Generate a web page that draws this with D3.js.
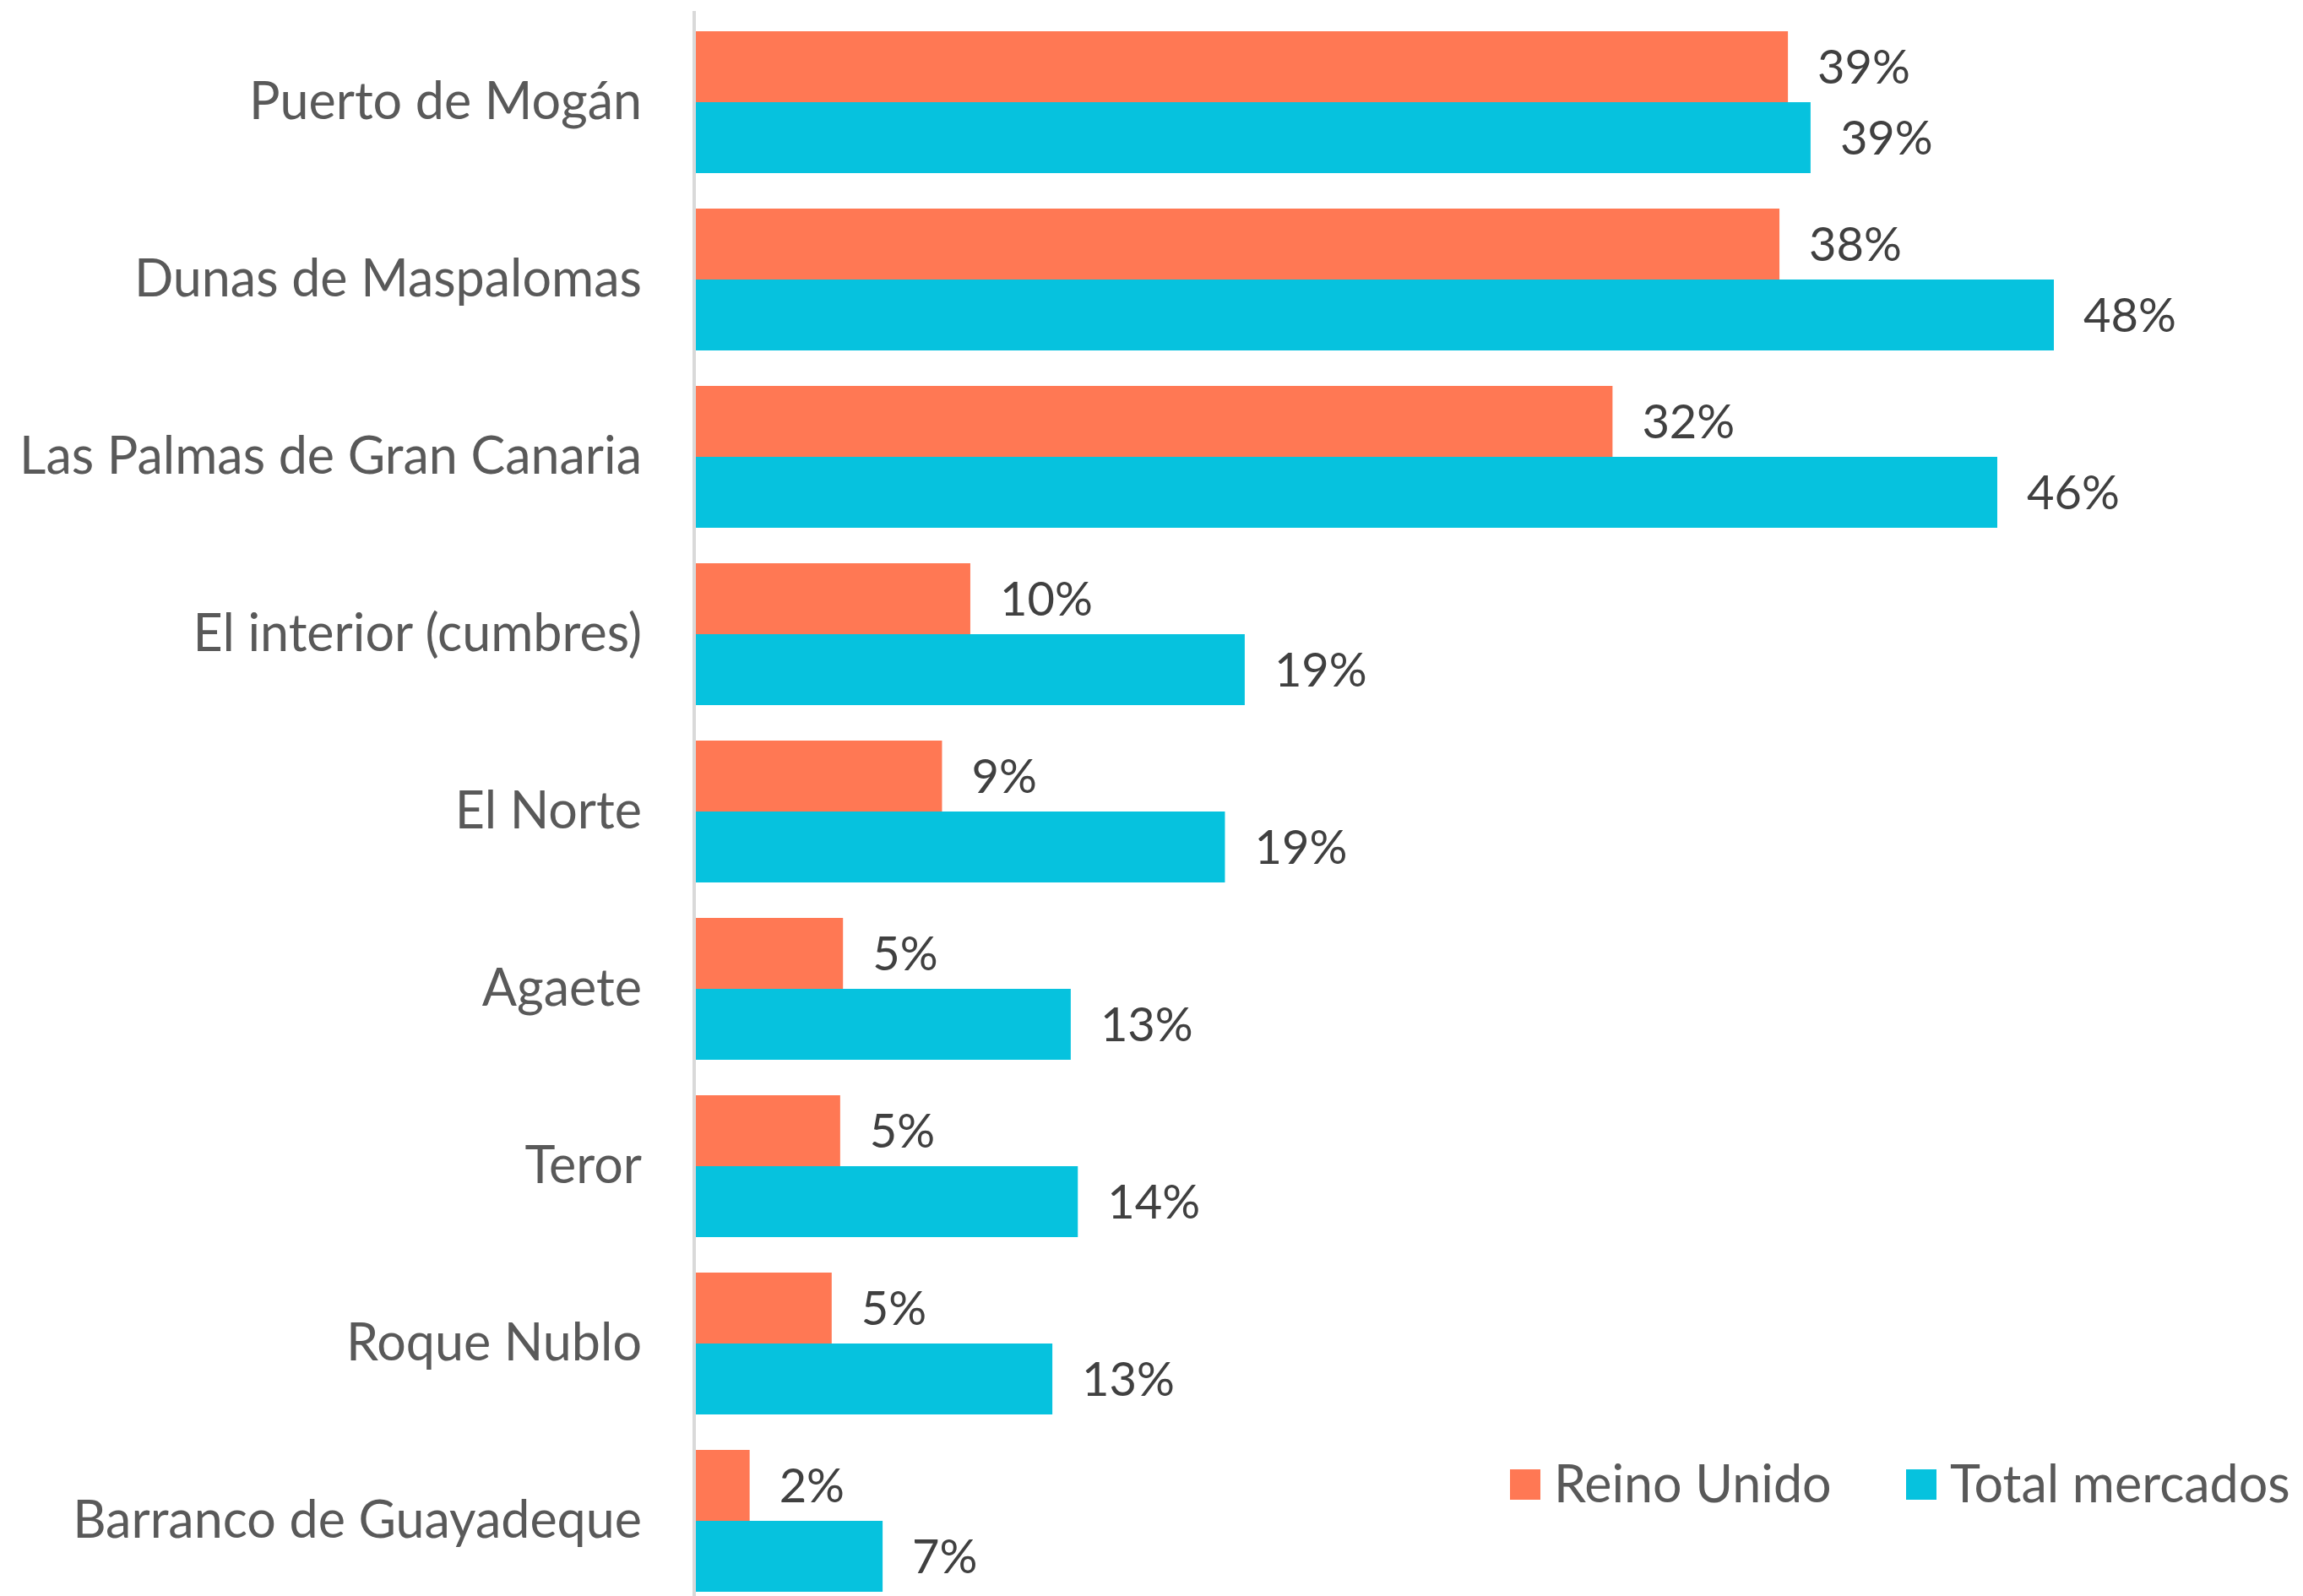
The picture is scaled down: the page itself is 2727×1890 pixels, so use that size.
<!DOCTYPE html>
<html>
<head>
<meta charset="utf-8">
<script src="https://cdn.jsdelivr.net/npm/d3@7"></script>
<style>
  body { margin: 0; background: #fff; }
  text { font-family: Lato, "Liberation Sans", sans-serif; }
</style>
</head>
<body>
<div id="chart"></div>
<script>
// Data (share of visitors, %)
var places = ["Puerto de Mogán", "Dunas de Maspalomas", "Las Palmas de Gran Canaria",
              "El interior (cumbres)", "El Norte", "Agaete", "Teror", "Roque Nublo",
              "Barranco de Guayadeque"];
var reinoUnido     = [38.6, 38.3, 32.4, 9.7, 8.7, 5.2, 5.1, 4.8, 1.9];
var totalMercados  = [39.4, 48.0, 46.0, 19.4, 18.7, 13.25, 13.5, 12.6, 6.6];
var seriesNames = ["Reino Unido", "Total mercados"];
var seriesColors = ["#FF7854", "#06C2DE"];

var width = 2727, height = 1890;
var axisX = 822;

var svg = d3.select("#chart").append("svg")
    .attr("width", width)
    .attr("height", height);

var rows = places.map(function(p, i) {
  return {name: p, values: [reinoUnido[i], totalMercados[i]]};
});

// scales
var xScale = d3.scaleLinear().domain([0, 50]).range([axisX + 2, axisX + 2 + 50 * 33.5]);
var yScale = d3.scaleBand().domain(places).range([16, 1906]).paddingInner(0.2).paddingOuter(0.1);
var ySub = d3.scaleBand().domain([0, 1]).range([0, yScale.bandwidth()]);

var fmt = function(v) { return Math.round(v) + "%"; };

// bars
var group = svg.append("g").selectAll(".grp").data(rows).enter()
    .append("g").attr("class", "grp")
    .attr("transform", function(d) { return "translate(0," + yScale(d.name) + ")"; });

group.selectAll("rect").data(function(d) { return d.values; }).enter()
    .append("rect")
    .attr("x", xScale(0))
    .attr("y", function(d, i) { return ySub(i); })
    .attr("width", function(d) { return xScale(d) - xScale(0); })
    .attr("height", ySub.bandwidth())
    .style("fill", function(d, i) { return seriesColors[i]; });

// data labels
group.selectAll(".lbl").data(function(d) { return d.values; }).enter()
    .append("text").attr("class", "lbl")
    .attr("x", function(d) { return xScale(d) + 35; })
    .attr("y", function(d, i) { return ySub(i) + ySub.bandwidth() / 2; })
    .attr("dy", "0.35em")
    .style("font-size", "56px")
    .style("fill", "#404040")
    .text(fmt);

// category axis
var yAxis = d3.axisLeft(yScale).tickSize(0).tickPadding(62);
var ax = svg.append("g").attr("transform", "translate(" + axisX + ",0)").call(yAxis);
ax.select(".domain").remove();
ax.selectAll("text").style("font-size", "61px").style("fill", "#595959")
    .style("font-family", "Lato, 'Liberation Sans', sans-serif");
svg.append("line")
    .attr("x1", axisX).attr("x2", axisX)
    .attr("y1", 13).attr("y2", height)
    .style("stroke", "#d9d9d9").style("stroke-width", 4);

// legend
var legendX = [1788, 2257];
var legend = svg.append("g").selectAll(".leg").data(seriesNames).enter()
    .append("g").attr("class", "leg")
    .attr("transform", function(d, i) { return "translate(" + legendX[i] + ",1740)"; });
legend.append("rect").attr("width", 36).attr("height", 36)
    .style("fill", function(d, i) { return seriesColors[i]; });
legend.append("text").attr("x", 52).attr("y", 18).attr("dy", "0.35em")
    .style("font-size", "61px").style("fill", "#595959")
    .text(function(d) { return d; });
</script>
</body>
</html>
